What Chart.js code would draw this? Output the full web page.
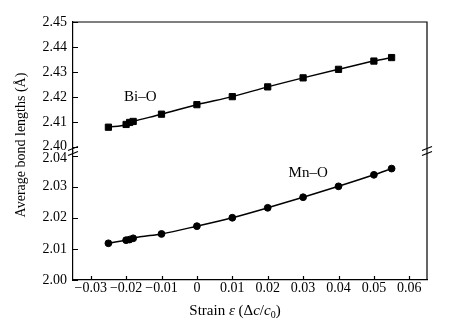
<!DOCTYPE html>
<html>
<head>
<meta charset="utf-8">
<script src="https://cdn.jsdelivr.net/npm/chart.js@4.4.1/dist/chart.umd.min.js"></script>
<style>
  html, body { margin: 0; padding: 0; background: #fff; }
  #c { display: block; }
</style>
</head>
<body>
<canvas id="c" width="454" height="331"></canvas>
<script>
// Strain values (Δc/c0) at which bond lengths were computed
const strain = [-0.025, -0.020, -0.019, -0.018, -0.010, 0.000, 0.010, 0.020, 0.030, 0.040, 0.050, 0.055];
// Average Bi–O bond length (Å)
const biO = [2.4080, 2.4091, 2.4099, 2.4103, 2.4132, 2.4170, 2.4202, 2.4241, 2.4277, 2.4311, 2.4344, 2.4358];
// Average Mn–O bond length (Å)
const mnO = [2.0118, 2.0128, 2.0130, 2.0134, 2.0148, 2.0173, 2.0200, 2.0232, 2.0266, 2.0301, 2.0338, 2.0358];

const seriesNames = ['Bi–O', 'Mn–O'];

const xTicks = [-0.03, -0.02, -0.01, 0, 0.01, 0.02, 0.03, 0.04, 0.05, 0.06];
const xTickLabels = ['−0.03', '−0.02', '−0.01', '0', '0.01', '0.02', '0.03', '0.04', '0.05', '0.06'];
const upperTicks = [2.40, 2.41, 2.42, 2.43, 2.44, 2.45];
const lowerTicks = [2.00, 2.01, 2.02, 2.03, 2.04];

const yTitle = 'Average bond lengths (Å)';
// x title pieces: [text, italic, subscript]
const xTitleParts = [
  ['Strain ', false, false],
  ['ε', true, false],
  [' (Δ', false, false],
  ['c', true, false],
  ['/', false, false],
  ['c', true, false],
  ['0', false, true],
  [')', false, false]
];

const SERIF = '"Liberation Serif", "Times New Roman", serif';
const tickFont = { family: SERIF, size: 14 };

function fixedTicks(values) {
  return scale => { scale.ticks = values.map(v => ({ value: v })); };
}

// Frame, inward tick marks, axis-break marks and text drawn over the plot
const decorations = {
  id: 'decorations',
  afterDraw(chart) {
    const { ctx, chartArea: a, scales } = chart;
    ctx.save();
    ctx.strokeStyle = '#000';
    ctx.fillStyle = '#000';
    ctx.lineWidth = 1.2;

    // top and right edges of the frame
    ctx.beginPath();
    ctx.moveTo(a.left, a.top);
    ctx.lineTo(a.right, a.top);
    ctx.lineTo(a.right, a.bottom);
    ctx.stroke();

    // inward tick marks
    ctx.beginPath();
    for (const id of ['yTop', 'yBot']) {
      const s = scales[id];
      for (const t of s.ticks) {
        const y = Math.round(s.getPixelForValue(t.value)) + 0.5;
        ctx.moveTo(a.left, y);
        ctx.lineTo(a.left + 5, y);
      }
    }
    for (const t of scales.x.ticks) {
      const x = Math.round(scales.x.getPixelForValue(t.value)) + 0.5;
      ctx.moveTo(x, a.bottom);
      ctx.lineTo(x, a.bottom - 4);
    }
    ctx.stroke();

    // y tick labels; the two labels next to the break are eased apart
    ctx.font = '14px ' + SERIF;
    ctx.textAlign = 'right';
    ctx.textBaseline = 'middle';
    const yTop = scales.yTop, yBot = scales.yBot;
    yTop.ticks.forEach((t, i) => {
      const nudge = i === 0 ? -1 : 0;
      ctx.fillText(t.value.toFixed(2), a.left - 6, yTop.getPixelForValue(t.value) + nudge);
    });
    yBot.ticks.forEach((t, i) => {
      const nudge = i === yBot.ticks.length - 1 ? 2.5 : 0;
      ctx.fillText(t.value.toFixed(2), a.left - 6, yBot.getPixelForValue(t.value) + nudge);
    });

    // axis-break marks on both vertical edges
    const yb = yTop.bottom;
    ctx.lineWidth = 1.1;
    for (const x of [a.left, a.right]) {
      ctx.beginPath();
      for (const d of [-2.5, 2.5]) {
        ctx.moveTo(x - 5, yb + d + 2);
        ctx.lineTo(x + 5, yb + d - 2);
      }
      ctx.stroke();
    }

    // series labels, anchored in data space
    ctx.font = '15px ' + SERIF;
    ctx.textAlign = 'left';
    ctx.textBaseline = 'middle';
    ctx.fillText(seriesNames[0], scales.x.getPixelForValue(-0.0206), yTop.getPixelForValue(2.4201));
    ctx.fillText(seriesNames[1], scales.x.getPixelForValue(0.0259), yBot.getPixelForValue(2.0344));

    // y-axis title
    ctx.save();
    ctx.translate(21, 145);
    ctx.rotate(-Math.PI / 2);
    ctx.font = '14px ' + SERIF;
    ctx.textAlign = 'center';
    ctx.textBaseline = 'middle';
    ctx.fillText(yTitle, 0, 0);
    ctx.restore();

    // x-axis title with italic symbols and subscript
    const fontFor = p => (p[1] ? 'italic ' : '') + (p[2] ? '10px ' : '15px ') + SERIF;
    let total = 0;
    for (const p of xTitleParts) { ctx.font = fontFor(p); total += ctx.measureText(p[0]).width; }
    let x = 235 - total / 2;
    const base = 315;
    ctx.textAlign = 'left';
    ctx.textBaseline = 'alphabetic';
    for (const p of xTitleParts) {
      ctx.font = fontFor(p);
      ctx.fillText(p[0], x, p[2] ? base + 3 : base);
      x += ctx.measureText(p[0]).width;
    }
    ctx.restore();
  }
};

const lineStyle = {
  borderColor: '#000',
  backgroundColor: '#000',
  borderWidth: 1.5,
  pointBorderWidth: 1,
  cubicInterpolationMode: 'monotone',
  clip: false
};

const yCommon = {
  type: 'linear',
  position: 'left',
  stack: 'bond',
  stackWeight: 1,
  afterFit: s => { s.width = 73; },
  grid: { display: false, drawTicks: false },
  border: { color: '#000', width: 1.2 },
  ticks: { display: false, autoSkip: false }
};

new Chart(document.getElementById('c'), {
  type: 'line',
  data: {
    datasets: [
      Object.assign({
        label: seriesNames[0],
        data: strain.map((x, i) => ({ x, y: biO[i] })),
        yAxisID: 'yTop',
        pointStyle: 'rect',
        pointRadius: 4.4
      }, lineStyle),
      Object.assign({
        label: seriesNames[1],
        data: strain.map((x, i) => ({ x, y: mnO[i] })),
        yAxisID: 'yBot',
        pointStyle: 'circle',
        pointRadius: 3.4
      }, lineStyle)
    ]
  },
  options: {
    responsive: false,
    animation: false,
    devicePixelRatio: 1,
    layout: { padding: { top: 22, right: 27, left: 0, bottom: 0 } },
    plugins: { legend: { display: false }, tooltip: { enabled: false } },
    scales: {
      x: {
        type: 'linear',
        min: -0.035,
        max: 0.065,
        afterBuildTicks: fixedTicks(xTicks),
        afterFit: s => { s.height = 51; },
        grid: { display: false, drawTicks: false },
        border: { color: '#000', width: 1.2 },
        ticks: {
          autoSkip: false,
          maxRotation: 0,
          padding: 0,
          color: '#000',
          font: tickFont,
          callback: (v, i) => xTickLabels[i]
        }
      },
      yTop: Object.assign({}, yCommon, {
        weight: 2,
        min: 2.3985,
        max: 2.45,
        afterBuildTicks: fixedTicks(upperTicks)
      }),
      yBot: Object.assign({}, yCommon, {
        weight: 1,
        min: 2.00,
        max: 2.04145,
        afterBuildTicks: fixedTicks(lowerTicks)
      })
    }
  },
  plugins: [decorations]
});
</script>
</body>
</html>
